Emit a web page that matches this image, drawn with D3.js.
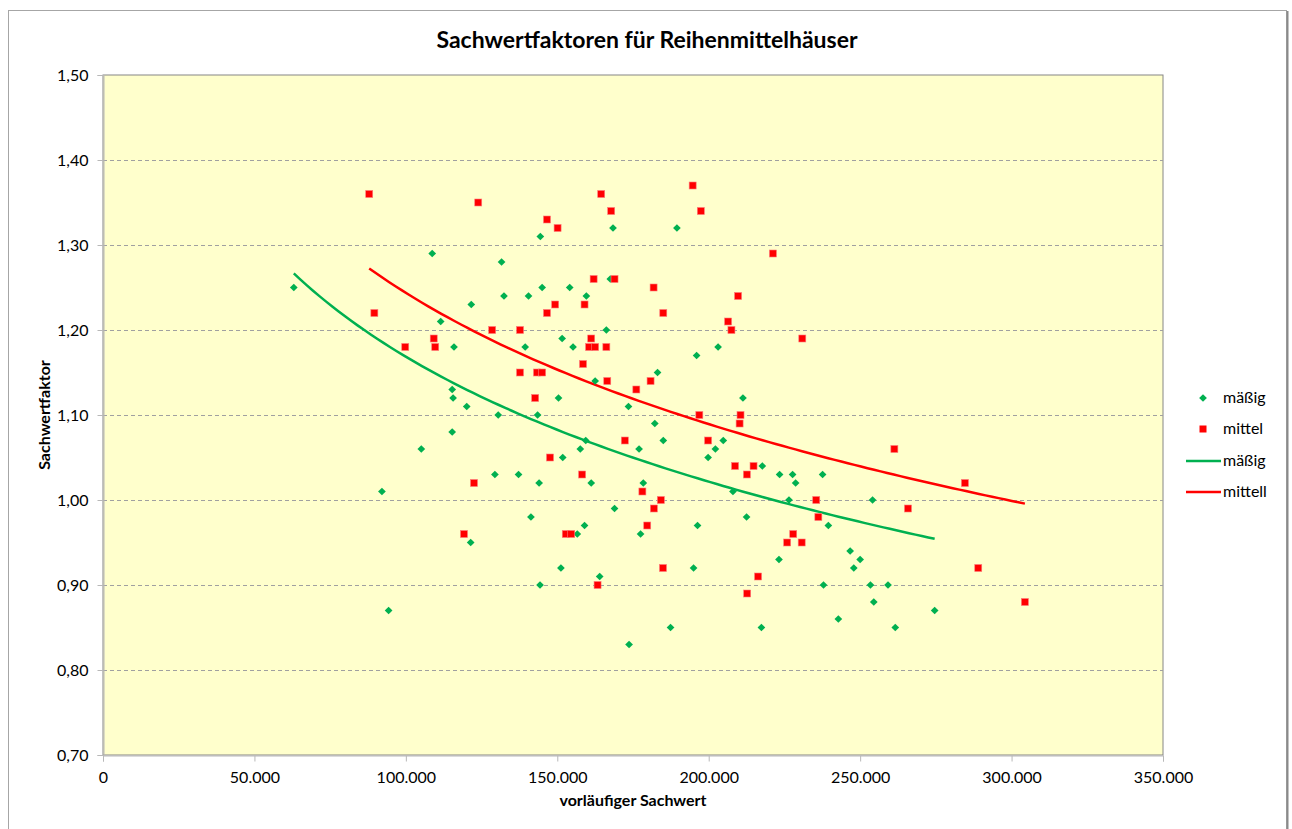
<!DOCTYPE html>
<html>
<head>
<meta charset="utf-8">
<script src="https://cdn.jsdelivr.net/npm/d3@7"></script>
<style>
  html, body { margin: 0; padding: 0; background: #fff; }
  svg { display: block; font-family: Lato, "Open Sans", sans-serif; }
</style>
</head>
<body>
<svg id="chart" width="1292" height="829"></svg>
<script>
// Vorläufiger Sachwert (EUR) und Sachwertfaktor, Lage "mäßig"
const massigX = [63000, 108700, 111500, 121600, 115900, 131600, 115300, 115600, 120100, 130500,
  115300, 105100, 129400, 92100, 121400, 94300, 144400, 168400, 189500, 167500,
  132400, 140500, 145000, 154100, 159600, 166200, 139400, 151600, 155200, 196000,
  183100, 162500, 150400, 173500, 143500, 182200, 159400, 185000, 157600, 177000,
  151800, 137200, 144000, 161200, 178400, 168900, 141300, 159000, 196300, 156600,
  177500, 151200, 195000, 164000, 144300, 187400, 173700, 203100, 211300, 202200,
  204800, 199800, 217700, 223400, 227700, 228700, 237600, 208000, 226500, 254100,
  212500, 239500, 223200, 246700, 250000, 247900, 237900, 253400, 259200, 254500,
  242800, 217400, 261600, 274600];
const massigY = [1.25, 1.29, 1.21, 1.23, 1.18, 1.28, 1.13, 1.12, 1.11, 1.10,
  1.08, 1.06, 1.03, 1.01, 0.95, 0.87, 1.31, 1.32, 1.32, 1.26,
  1.24, 1.24, 1.25, 1.25, 1.24, 1.20, 1.18, 1.19, 1.18, 1.17,
  1.15, 1.14, 1.12, 1.11, 1.10, 1.09, 1.07, 1.07, 1.06, 1.06,
  1.05, 1.03, 1.02, 1.02, 1.02, 0.99, 0.98, 0.97, 0.97, 0.96,
  0.96, 0.92, 0.92, 0.91, 0.90, 0.85, 0.83, 1.18, 1.12, 1.06,
  1.07, 1.05, 1.04, 1.03, 1.03, 1.02, 1.03, 1.01, 1.00, 1.00,
  0.98, 0.97, 0.93, 0.94, 0.93, 0.92, 0.90, 0.90, 0.90, 0.88,
  0.86, 0.85, 0.85, 0.87];

// Lage "mittel"
const mittelX = [87900, 123900, 89600, 128500, 99800, 109200, 109700, 122500, 119200, 194700,
  164500, 167800, 197400, 146600, 150100, 162000, 168900, 181800, 149300, 159000,
  146600, 185000, 137700, 161200, 160500, 162500, 166200, 158500, 137700, 143300,
  145000, 166500, 176100, 180800, 142700, 196900, 172300, 199800, 147600, 158200,
  178100, 184200, 181900, 179700, 152800, 154600, 184900, 163300, 221200, 209700,
  206400, 207500, 230900, 210500, 210200, 261300, 208700, 214800, 212600, 235500,
  236200, 265800, 227900, 225900, 230700, 216300, 212700, 284600, 289000, 304400];
const mittelY = [1.36, 1.35, 1.22, 1.20, 1.18, 1.19, 1.18, 1.02, 0.96, 1.37,
  1.36, 1.34, 1.34, 1.33, 1.32, 1.26, 1.26, 1.25, 1.23, 1.23,
  1.22, 1.22, 1.20, 1.19, 1.18, 1.18, 1.18, 1.16, 1.15, 1.15,
  1.15, 1.14, 1.13, 1.14, 1.12, 1.10, 1.07, 1.07, 1.05, 1.03,
  1.01, 1.00, 0.99, 0.97, 0.96, 0.96, 0.92, 0.90, 1.29, 1.24,
  1.21, 1.20, 1.19, 1.10, 1.09, 1.06, 1.04, 1.04, 1.03, 1.00,
  0.98, 0.99, 0.96, 0.95, 0.95, 0.91, 0.89, 1.02, 0.92, 0.88];

const xTicks = [0, 50000, 100000, 150000, 200000, 250000, 300000, 350000];
const yTicks = [0.70, 0.80, 0.90, 1.00, 1.10, 1.20, 1.30, 1.40, 1.50];
const legendLabels = ["mäßig", "mittel", "mäßig", "mittell"];

const GREEN = "#00B050", RED = "#FF0000";
const svg = d3.select("#chart");

// chart frame
svg.append("rect").attr("x", 8.5).attr("y", 10.5).attr("width", 1278).attr("height", 830)
  .attr("fill", "#fff").attr("stroke", "#a6a6a6").attr("stroke-width", 1);
svg.append("line").attr("x1", 1287.5).attr("x2", 1287.5).attr("y1", 11).attr("y2", 829)
  .attr("stroke", "#8a8a8a").attr("stroke-width", 2);

const plot = { left: 103, top: 75, right: 1163, bottom: 755 };
const x = d3.scaleLinear().domain([0, 350000]).range([plot.left, plot.right]);
const y = d3.scaleLinear().domain([0.70, 1.50]).range([plot.bottom, plot.top]);

const fmtX = v => d3.format(",.0f")(v).replace(/,/g, ".");
const fmtY = v => d3.format(".2f")(v).replace(".", ",");

// plot area
svg.append("rect").attr("x", plot.left).attr("y", plot.top)
  .attr("width", plot.right - plot.left).attr("height", plot.bottom - plot.top)
  .attr("fill", "#FFFFCC").attr("stroke", "#868686").attr("stroke-width", 1);

// dashed grid lines
svg.append("g").selectAll("line").data(yTicks.filter(t => t > 0.75 && t < 1.45)).join("line")
  .attr("x1", plot.left).attr("x2", plot.right)
  .attr("y1", d => Math.round(y(d)) + 0.5).attr("y2", d => Math.round(y(d)) + 0.5)
  .attr("stroke", "#a0a0a0").attr("stroke-width", 1).attr("stroke-dasharray", "4,3");

// axes
const yAxis = d3.axisLeft(y).tickValues(yTicks).tickFormat(fmtY).tickSize(6).tickPadding(9);
const gy = svg.append("g").attr("transform", `translate(${plot.left + 0.5},0)`).call(yAxis);
const xAxis = d3.axisBottom(x).tickValues(xTicks).tickFormat(fmtX).tickSize(6).tickPadding(10);
const gx = svg.append("g").attr("transform", `translate(0,${plot.bottom + 0.5})`).call(xAxis);
[gx, gy].forEach(g => {
  g.select(".domain").attr("stroke", "#b8b8b8");
  g.selectAll(".tick line").attr("stroke", "#b8b8b8");
  g.selectAll("text").attr("fill", "#000").style("font-size", "16px")
    .style("font-family", "Lato, 'Open Sans', sans-serif");
});

// logarithmic trend lines (least squares on ln x)
function logFit(xs, ys) {
  const lx = xs.map(Math.log);
  const n = xs.length;
  const mx = d3.mean(lx), my = d3.mean(ys);
  let sxy = 0, sxx = 0;
  for (let i = 0; i < n; i++) { sxy += (lx[i] - mx) * (ys[i] - my); sxx += (lx[i] - mx) ** 2; }
  const b = sxy / sxx, a = my - b * mx;
  const [lo, hi] = d3.extent(xs);
  return d3.range(0, 101).map(k => {
    const xv = lo + (hi - lo) * k / 100;
    return [xv, a + b * Math.log(xv)];
  });
}
const line = d3.line().x(d => x(d[0])).y(d => y(d[1])).curve(d3.curveLinear);
svg.append("path").datum(logFit(massigX, massigY)).attr("d", line)
  .attr("fill", "none").attr("stroke", GREEN).attr("stroke-width", 2.5);
svg.append("path").datum(logFit(mittelX, mittelY)).attr("d", line)
  .attr("fill", "none").attr("stroke", RED).attr("stroke-width", 2.5);

// markers
const diamond = d3.symbol().type(d3.symbolDiamond2).size(38);
svg.append("g").selectAll("path").data(d3.range(massigX.length)).join("path")
  .attr("d", diamond)
  .attr("transform", i => `translate(${x(massigX[i])},${y(massigY[i])})`)
  .attr("fill", GREEN);
svg.append("g").selectAll("rect").data(d3.range(mittelX.length)).join("rect")
  .attr("x", i => x(mittelX[i]) - 3.5).attr("y", i => y(mittelY[i]) - 3.5)
  .attr("width", 7).attr("height", 7).attr("fill", RED)
  .attr("stroke", "#ff7a7a").attr("stroke-width", 0.6);

// titles
svg.append("text").attr("x", 647).attr("y", 48).attr("text-anchor", "middle")
  .style("font-size", "23px").style("font-weight", "bold").text("Sachwertfaktoren für Reihenmittelhäuser");
svg.append("text").attr("x", 633).attr("y", 806).attr("text-anchor", "middle")
  .style("font-size", "16px").style("font-weight", "bold").text("vorläufiger Sachwert");
svg.append("text").attr("transform", "translate(50,415) rotate(-90)").attr("text-anchor", "middle")
  .style("font-size", "16px").style("font-weight", "bold").text("Sachwertfaktor");

// legend
const lg = svg.append("g");
const legendY = [398, 429, 461, 492];
legendLabels.forEach((lab, i) => {
  const yy = legendY[i];
  if (i === 0) lg.append("path").attr("d", diamond).attr("transform", `translate(1203,${yy})`).attr("fill", GREEN);
  if (i === 1) lg.append("rect").attr("x", 1199.5).attr("y", yy - 3.5).attr("width", 7).attr("height", 7).attr("fill", RED);
  if (i >= 2) lg.append("line").attr("x1", 1186).attr("x2", 1221).attr("y1", yy).attr("y2", yy)
    .attr("stroke", i === 2 ? GREEN : RED).attr("stroke-width", 2.5);
  lg.append("text").attr("x", 1223).attr("y", yy + 5).style("font-size", "16px").text(lab);
});
</script>
</body>
</html>
